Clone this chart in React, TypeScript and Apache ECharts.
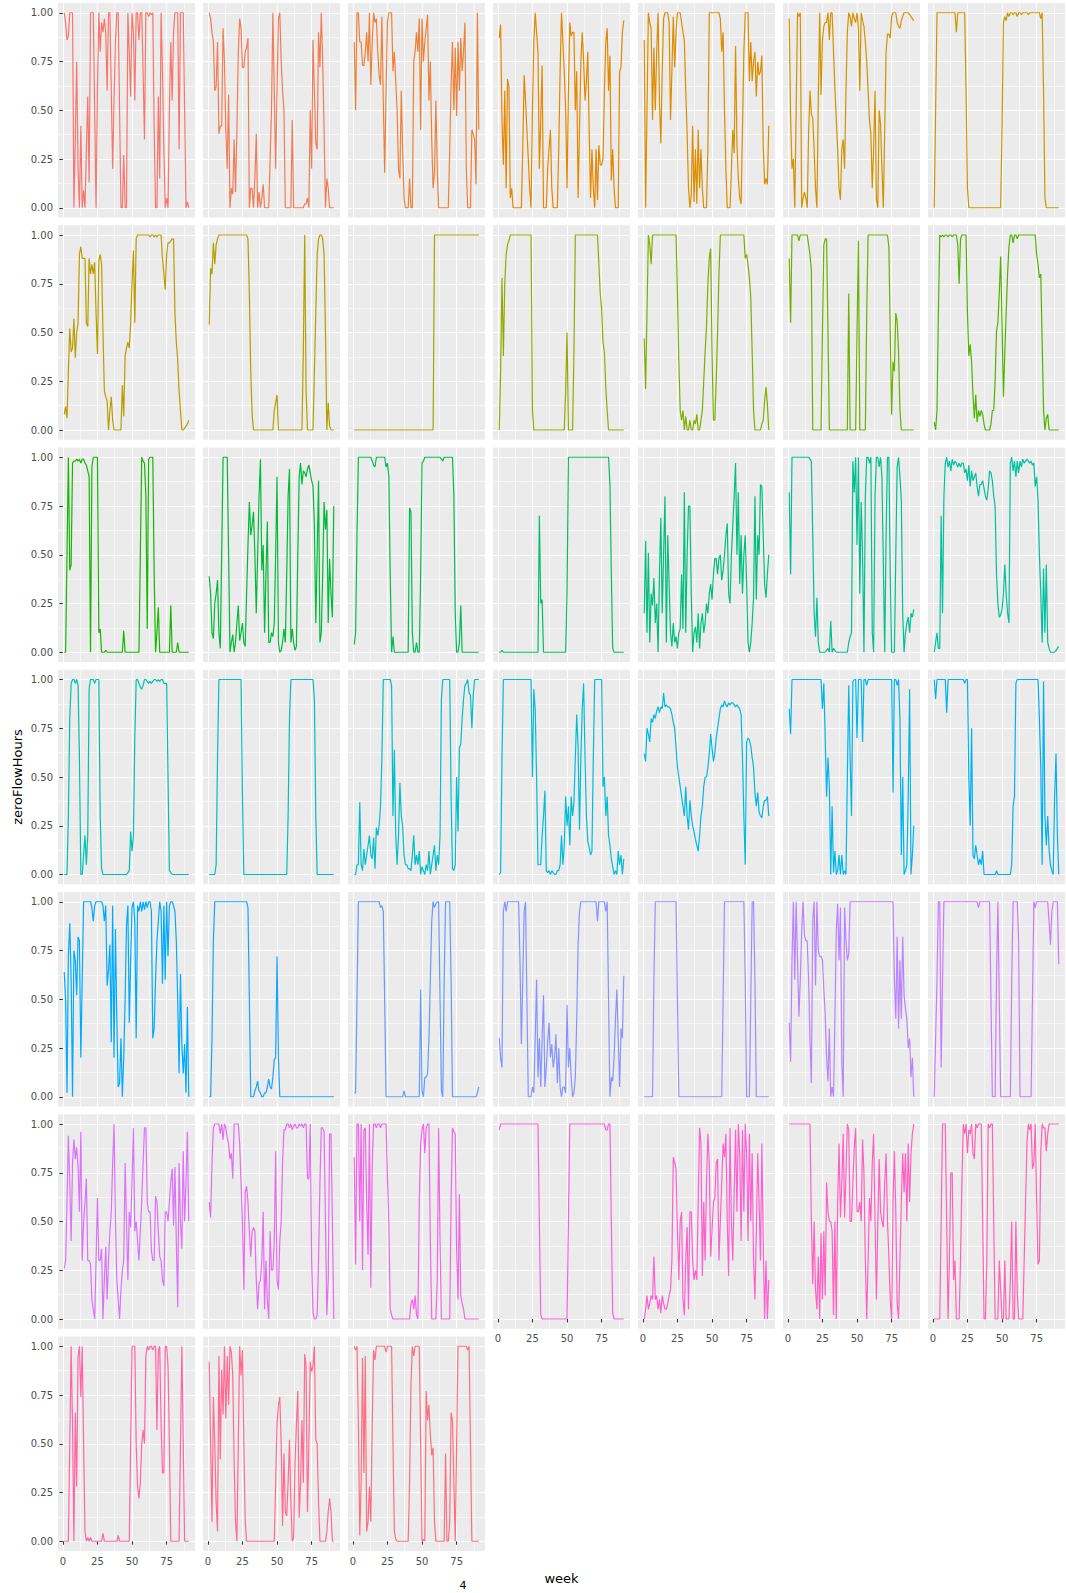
import React, { useEffect, useRef } from 'react';
import * as echarts from 'echarts';

const weeks = [1,2,3,4,5,6,7,8,9,10,11,12,13,14,15,16,17,18,19,20,21,22,23,24,25,26,27,28,29,30,31,32,33,34,35,36,37,38,39,40,41,42,43,44,45,46,47,48,49,50,51,52,53,54,55,56,57,58,59,60,61,62,63,64,65,66,67,68,69,70,71,72,73,74,75,76,77,78,79,80,81,82,83,84,85,86,87,88,89,90,91];
const yTickValues = [0, 0.25, 0.5, 0.75, 1];
const xTickValues = [0, 25, 50, 75];

// zeroFlowHours per panel, in percent of 1.00
const s01 = [100,95,86,88,100,100,100,0,35,75,20,0,42,0,9,0,30,57,13,100,100,100,50,0,60,100,80,95,90,97,90,60,100,100,60,20,55,85,100,100,50,0,0,27,0,0,100,80,57,100,90,55,100,100,86,100,100,70,35,100,100,98,100,99,100,40,0,0,57,15,100,70,30,0,5,0,50,85,55,90,100,100,100,30,100,100,100,50,0,3,0];
const s02 = [100,97,90,85,60,62,85,38,42,42,92,75,40,20,58,0,10,7,35,8,40,80,97,92,72,72,80,82,87,0,10,10,0,15,38,0,8,0,5,12,0,0,0,0,25,50,100,60,20,60,97,100,75,60,50,0,0,0,0,0,45,0,0,0,0,0,0,0,0,2,2,5,0,50,20,86,60,33,30,90,72,100,75,40,0,15,10,0,0,0,0];
const s03 = [85,50,100,100,85,85,73,73,80,90,75,100,63,85,100,95,97,80,68,63,98,55,18,60,95,100,100,100,70,80,65,50,20,15,60,30,5,0,0,0,15,0,0,75,80,90,80,97,40,97,75,85,92,99,55,75,35,10,18,55,20,0,0,0,0,0,0,0,0,30,63,85,50,82,47,85,60,87,70,80,95,20,0,0,0,40,38,35,12,100,40];
const s04 = [87,94,45,22,60,10,66,62,5,10,0,0,0,0,0,0,0,30,68,55,40,25,10,0,50,85,100,90,80,20,45,73,0,0,0,20,30,40,10,0,0,0,0,30,70,100,85,70,50,10,60,95,88,90,90,50,70,5,40,75,90,75,55,65,80,40,5,30,10,0,30,4,32,22,22,25,60,85,92,60,78,14,30,10,0,0,0,70,72,90,96];
const s05 = [86,0,50,100,95,92,45,82,50,80,100,55,33,70,97,100,100,100,95,45,70,98,72,90,100,100,100,95,90,86,60,38,10,0,7,42,3,30,2,40,10,30,10,0,0,0,30,100,100,100,100,100,100,100,100,97,80,90,50,20,0,0,0,20,40,28,83,33,15,5,2,40,80,100,100,100,65,85,65,75,80,57,75,68,70,78,32,12,15,12,42];
const s06 = [97,46,20,25,0,50,100,98,100,0,5,8,5,0,38,60,48,46,30,10,0,55,100,58,86,93,95,95,100,86,100,100,80,61,45,30,10,4,30,35,20,60,90,100,98,93,100,97,95,100,92,60,100,96,93,85,75,60,45,38,10,30,60,4,0,50,43,20,0,40,80,89,89,87,98,100,100,100,95,93,92,96,98,100,100,100,100,99,98,97,96];
const s07 = [0,50,100,100,100,100,100,100,100,100,100,100,100,100,100,100,90,100,100,100,100,100,100,60,10,0,0,0,0,0,0,0,0,0,0,0,0,0,0,0,0,0,0,0,0,0,0,0,0,40,95,98,96,100,98,100,100,99,100,100,98,100,100,99,100,100,100,100,99,100,100,100,100,100,100,100,100,97,100,60,5,0,0,0,0,0,0,0,0,0,0];
const s08 = [8,12,6,30,52,40,42,57,37,50,55,90,94,88,88,88,55,53,88,80,85,80,86,60,39,87,90,85,50,20,17,15,0,10,17,5,0,0,0,0,0,0,23,7,38,42,45,42,55,75,92,55,98,100,100,100,100,100,100,100,100,100,99,100,100,99,100,99,100,100,100,88,80,72,90,96,96,97,98,98,60,45,36,20,10,0,0,1,2,3,5];
const s09 = [54,83,80,96,85,95,98,100,100,100,100,100,100,100,100,100,100,100,100,100,100,100,100,100,100,100,100,100,98,70,30,8,0,0,0,0,0,0,0,0,0,0,0,0,0,0,0,10,14,18,0,0,0,0,0,0,0,0,0,0,0,0,0,0,0,0,0,0,40,100,20,0,0,0,0,0,30,60,90,98,100,100,98,90,50,0,14,2,0,0,0];
const s10 = [0,0,0,0,0,0,0,0,0,0,0,0,0,0,0,0,0,0,0,0,0,0,0,0,0,0,0,0,0,0,0,0,0,0,0,0,0,0,0,0,0,0,0,0,0,0,0,0,0,0,0,0,0,0,0,0,0,0,100,100,100,100,100,100,100,100,100,100,100,100,100,100,100,100,100,100,100,100,100,100,100,100,100,100,100,100,100,100,100,100,100];
const s11 = [0,30,78,38,75,90,95,97,100,100,100,100,100,100,100,100,100,100,100,100,100,100,100,100,10,0,0,0,0,0,0,0,0,0,0,0,0,0,0,0,0,0,0,0,0,0,0,0,20,50,0,0,0,0,40,100,100,100,100,100,100,100,100,100,100,100,100,100,100,100,100,100,85,70,62,45,40,22,10,0,0,0,0,0,0,0,0,0,0,0,0];
const s12 = [47,21,60,100,95,85,100,100,100,100,100,100,100,100,100,100,100,100,100,100,100,100,100,100,70,35,10,5,10,0,7,0,0,5,0,0,5,3,8,0,0,5,10,25,40,53,75,88,93,40,5,5,25,50,80,100,100,100,100,100,100,100,100,100,100,100,100,100,100,100,100,100,100,88,90,85,78,68,40,10,0,0,0,0,0,3,5,15,22,13,0];
const s13 = [88,55,100,100,100,100,100,97,100,100,100,100,100,100,95,90,82,0,0,0,0,0,0,0,50,95,98,98,50,0,0,0,0,0,0,0,0,0,0,0,0,0,0,70,0,0,0,0,0,50,97,0,0,0,0,0,60,100,100,100,100,100,100,100,100,100,100,100,100,100,100,100,94,50,8,35,30,60,56,40,10,0,0,0,0,0,0,0,0,0,0];
const s14 = [4,0,10,60,100,99,100,99,100,100,99,100,100,99,100,100,100,95,75,98,100,100,100,100,60,38,44,35,18,6,18,4,10,7,10,8,3,0,0,0,0,3,10,10,25,51,55,70,89,55,17,40,60,80,94,100,100,96,100,100,98,100,100,100,100,100,100,100,100,100,100,100,100,100,90,85,78,80,45,10,0,6,8,0,0,0,0,0,0,0,0];
const s15 = [0,0,50,100,42,45,97,98,98,99,98,99,97,99,99,97,96,93,90,0,95,100,100,100,100,10,12,0,0,0,1,0,0,0,0,0,0,0,0,0,0,0,0,11,0,0,0,0,0,0,0,0,0,0,0,50,100,98,97,80,12,99,100,100,100,40,0,10,23,0,0,0,0,0,0,0,0,24,0,0,0,0,5,0,0,0,0,0,0,0,0];
const s16 = [39,30,10,7,25,30,37,10,2,50,100,100,100,100,50,0,5,9,0,5,15,24,6,10,15,5,3,30,55,77,60,65,72,50,20,50,80,99,42,55,10,40,67,5,5,10,8,15,50,90,5,0,1,5,12,5,40,80,94,5,12,5,1,3,50,90,97,86,93,92,90,94,96,92,88,85,65,15,50,88,5,10,40,77,63,73,15,48,30,18,75];
const s17 = [4,10,60,100,100,100,100,100,100,100,100,100,100,98,96,95,100,100,100,100,100,100,100,95,97,90,40,0,8,0,0,0,0,0,0,0,0,0,0,0,74,72,10,0,0,5,0,0,40,97,98,100,100,100,100,100,100,100,100,100,100,100,100,99,98,100,100,100,100,100,100,100,80,20,0,0,5,24,0,0,0,0,0,0,0,0,0,0,0,0,0];
const s18 = [0,0,1,0,0,0,0,0,0,0,0,0,0,0,0,0,0,0,0,0,0,0,0,0,0,0,0,0,0,70,25,27,0,0,0,0,0,0,0,0,0,0,0,0,0,0,0,0,0,30,100,100,100,100,100,100,100,100,100,100,100,100,100,100,100,100,100,100,100,100,100,100,100,100,100,100,100,100,100,100,86,40,2,0,0,0,0,0,0,0,0];
const s19 = [20,57,10,51,5,30,24,38,15,25,0,40,69,20,50,80,5,60,35,10,3,15,5,8,2,10,12,40,12,82,10,50,75,75,30,0,10,13,5,20,2,15,20,10,15,25,20,30,35,27,40,48,48,40,48,50,37,42,50,60,66,30,25,50,65,80,97,50,82,35,60,30,50,60,35,5,0,5,15,28,80,27,60,50,86,85,60,35,28,40,50];
const s20 = [82,40,100,100,100,100,100,100,100,100,100,100,100,100,100,99,98,60,20,8,28,5,0,0,0,0,0,1,2,0,16,0,2,1,0,0,0,0,0,0,0,0,0,5,8,10,98,82,100,55,100,30,77,50,0,80,100,100,97,100,10,0,80,100,100,95,100,90,45,0,60,100,100,40,0,0,0,50,95,100,90,78,20,0,10,15,18,10,20,18,22];
const s21 = [0,5,10,2,2,70,20,80,97,100,95,98,93,99,96,98,97,95,97,95,97,97,92,94,88,96,85,93,88,90,92,85,80,86,86,88,84,80,78,84,93,92,88,80,75,40,25,18,19,22,30,45,30,20,15,97,100,93,98,90,98,92,98,95,99,97,98,99,98,97,98,96,97,85,90,78,50,30,5,43,10,45,5,2,0,0,0,0,1,2,3];
const s22 = [0,0,0,30,80,98,100,100,98,100,97,60,0,0,10,20,5,20,95,100,100,100,98,100,100,100,30,3,0,0,0,0,0,0,0,0,0,0,0,0,0,0,0,0,0,0,1,2,22,12,20,70,100,100,98,96,95,97,100,100,99,98,99,98,99,100,100,99,100,99,100,100,98,98,98,50,2,1,0,0,0,0,0,0,0,0,0,0,0,0,0];
const s23 = [0,0,0,0,0,5,60,100,100,100,100,100,100,100,100,100,100,100,100,100,100,100,100,100,40,0,0,0,0,0,0,0,0,0,0,0,0,0,0,0,0,0,0,0,0,0,0,0,0,0,0,0,0,0,0,0,0,30,80,100,100,100,100,100,100,100,100,100,100,100,100,100,100,100,100,100,90,30,0,0,0,0,0,0,0,0,0,0,0,0,0];
const s24 = [0,0,5,5,37,5,2,13,5,10,15,20,10,8,19,3,24,20,25,35,60,100,100,100,100,100,100,97,30,64,20,5,20,47,30,25,10,5,5,3,3,2,10,20,5,10,5,12,0,4,2,0,5,2,12,0,5,10,15,2,10,5,20,90,100,100,100,100,100,100,40,3,2,5,50,22,65,67,80,90,97,98,100,93,92,75,92,100,100,100,100];
const s25 = [0,1,60,100,100,100,100,100,100,100,100,100,100,100,100,100,100,100,100,100,100,100,100,100,50,95,85,50,5,5,5,20,30,43,2,1,2,0,2,1,0,0,2,2,5,20,5,15,40,25,35,15,40,30,37,60,82,65,23,60,85,98,60,30,17,14,10,12,60,100,100,100,100,100,100,45,50,30,40,20,15,8,4,0,2,0,12,5,10,0,8];
const s26 = [62,58,75,72,68,80,78,82,80,84,86,83,86,85,93,86,87,86,86,85,82,78,75,65,55,50,45,40,35,30,45,30,23,38,30,25,22,18,15,12,20,30,35,45,50,50,55,62,72,65,58,62,70,75,80,85,87,86,89,87,86,88,87,88,88,87,86,87,86,85,82,60,30,5,68,70,69,66,60,55,42,35,42,32,30,29,35,38,38,40,30];
const s27 = [85,72,100,100,100,100,100,100,100,100,100,100,100,100,100,100,100,100,100,100,100,100,100,100,85,98,70,40,60,45,0,35,1,12,0,2,10,0,10,0,2,0,50,97,60,30,99,100,100,70,100,100,100,68,100,100,97,100,100,100,100,100,100,100,100,100,100,100,100,100,100,100,100,100,100,42,100,100,97,100,80,10,50,0,2,5,40,95,0,10,25];
const s28 = [100,90,100,100,100,100,100,100,100,83,100,100,100,100,100,100,100,100,100,100,100,100,98,100,100,50,25,75,10,8,15,10,5,8,5,12,0,0,0,0,0,0,0,0,0,2,0,0,0,0,0,0,0,0,0,0,5,35,40,98,100,100,100,100,100,100,100,100,100,100,100,100,100,100,100,100,80,55,5,99,30,15,30,13,5,2,0,40,62,20,0];
const s29 = [64,50,2,72,89,60,0,75,70,52,82,80,20,60,100,100,100,100,100,100,97,90,98,100,100,100,100,100,98,90,98,57,65,78,28,98,20,86,40,5,7,30,0,20,50,88,98,38,70,97,100,90,30,98,95,100,95,100,96,100,97,100,100,95,30,35,60,80,90,100,95,58,98,60,100,72,98,100,100,98,95,80,50,12,63,27,12,27,2,46,0];
const s30 = [0,0,30,80,100,100,100,100,100,100,100,100,100,100,100,100,100,100,100,100,100,100,100,100,100,100,100,100,97,50,0,0,0,3,5,8,3,2,0,0,2,2,5,9,5,4,10,19,20,72,20,0,0,0,0,0,0,0,0,0,0,0,0,0,0,0,0,0,0,0,0,0,0,0,0,0,0,0,0,0,0,0,0,0,0,0,0,0,0,0,0];
const s31 = [2,2,50,100,100,100,100,100,100,100,100,100,100,100,100,100,100,100,100,97,98,95,50,0,0,0,0,0,0,0,0,0,0,0,0,0,3,0,0,0,0,0,0,0,0,0,0,0,55,3,0,10,10,12,30,60,90,100,97,99,100,100,50,3,0,60,100,100,100,100,60,0,0,0,0,0,0,0,0,0,0,0,0,0,0,0,0,0,0,2,5];
const s32 = [30,20,15,95,100,95,100,100,100,100,100,100,100,100,100,70,27,60,95,100,50,0,0,0,5,2,30,60,10,30,5,30,52,5,15,28,38,20,27,15,20,32,7,25,5,0,5,5,2,47,15,25,10,0,2,10,40,78,95,100,100,100,100,100,100,100,100,100,100,100,100,90,100,100,100,100,100,95,100,50,0,10,8,20,40,55,30,5,35,30,62];
const s33 = [0,0,0,0,0,0,0,60,100,100,100,100,100,100,100,100,100,100,100,100,100,100,100,100,50,0,0,0,0,0,0,0,0,0,0,0,0,0,0,0,0,0,0,0,0,0,0,0,0,0,0,0,0,0,0,0,0,50,100,100,100,100,100,100,100,100,100,100,100,100,100,100,100,60,0,0,0,50,100,100,60,0,0,0,0,0,0,0,0,0,0];
const s34 = [38,18,70,100,60,100,70,41,60,85,100,83,80,80,60,30,7,90,100,57,100,75,72,72,70,55,42,20,8,35,0,5,0,40,85,99,70,97,18,0,97,80,70,73,100,100,100,100,100,100,100,100,100,100,100,100,100,100,100,100,100,100,100,100,100,100,100,100,100,100,100,100,100,100,100,100,60,40,82,35,70,40,82,52,45,40,25,30,10,20,0];
const s35 = [0,30,60,100,100,15,60,100,100,100,100,100,100,100,100,100,100,100,100,100,100,100,100,100,100,100,100,100,100,100,100,100,97,100,100,100,100,100,100,100,100,50,0,0,0,60,100,50,0,0,0,0,0,0,0,0,60,100,100,100,100,80,0,0,0,0,0,0,0,0,0,50,100,97,100,100,100,100,100,100,100,100,100,90,78,95,100,100,100,100,68];
const s36 = [26,30,60,94,70,40,80,92,82,88,78,55,96,30,50,60,72,30,30,28,10,5,0,30,62,30,30,36,0,20,37,10,30,45,55,80,100,50,20,10,0,15,25,30,80,50,20,55,47,70,98,45,50,40,30,45,60,80,98,98,60,55,55,35,30,30,63,60,45,32,30,20,17,55,55,50,60,70,77,48,78,40,6,80,50,36,86,50,70,96,50];
const s37 = [60,52,80,98,100,100,100,100,95,100,92,100,98,93,90,82,85,72,100,100,100,100,90,70,50,15,65,68,60,45,32,45,47,45,20,5,18,20,30,55,5,30,10,0,45,25,25,40,86,20,15,40,50,80,97,97,100,100,98,100,97,99,100,98,98,100,99,100,98,100,100,72,72,100,30,3,0,0,2,30,70,98,98,96,50,2,20,95,95,50,0];
const s38 = [83,28,100,100,50,100,25,97,98,60,33,100,16,80,100,100,98,100,100,98,100,100,100,100,73,50,5,2,0,0,0,0,0,0,0,0,0,0,0,0,0,8,10,5,12,2,0,60,90,97,100,85,98,100,100,40,0,0,0,0,20,98,40,0,0,0,0,0,0,0,60,98,96,95,35,10,64,12,8,5,0,0,0,0,0,0,0,0,0,0,0];
const s39 = [97,100,100,100,100,100,100,100,100,100,100,100,100,100,100,100,100,100,100,100,100,100,100,100,100,100,100,100,100,50,2,0,0,0,0,0,0,0,0,0,0,0,0,0,0,0,0,0,0,0,50,100,100,100,100,100,100,100,100,100,100,100,100,100,100,100,100,100,100,100,100,100,100,100,100,100,100,97,97,100,100,50,3,0,0,0,0,0,0,0,0];
const s40 = [0,5,12,5,8,12,10,32,10,12,5,10,3,12,8,5,5,8,12,15,30,83,80,77,45,20,50,55,10,2,30,47,5,55,55,30,20,25,20,60,98,90,22,60,30,70,95,80,32,45,60,62,80,82,30,50,70,90,83,95,50,22,98,50,30,65,97,55,100,85,40,97,55,100,85,40,95,50,85,30,10,45,85,60,30,90,40,0,30,0,20];
const s41 = [100,100,100,100,100,100,100,100,100,100,100,100,100,100,100,100,50,18,50,15,5,32,0,44,10,45,12,70,55,50,50,45,2,50,0,60,90,52,70,95,52,75,100,97,50,50,70,88,98,55,55,60,50,92,75,30,0,30,62,50,80,95,50,10,48,82,55,50,47,70,85,50,32,10,0,60,86,55,8,0,30,60,85,65,85,50,90,60,85,95,100];
const s42 = [0,0,0,0,0,50,100,100,100,50,0,30,75,75,20,30,0,0,0,30,70,100,95,100,85,97,95,100,85,82,100,98,100,100,100,50,0,0,30,100,98,100,100,50,0,0,0,30,15,0,0,30,0,0,0,20,50,0,0,50,14,0,0,0,0,30,60,90,100,97,100,77,80,100,60,28,30,85,100,98,98,86,95,100,100,100,100,100,100,100,100];
const s43 = [0,0,0,0,50,100,60,0,66,28,95,100,74,100,50,5,0,2,0,2,0,0,0,0,0,0,0,0,4,0,0,0,0,0,0,0,0,0,0,3,0,0,0,0,0,0,0,0,50,100,100,100,50,28,22,30,50,57,50,95,100,98,100,100,98,100,100,57,98,100,60,35,35,100,100,90,50,0,0,0,0,0,0,0,50,100,50,0,0,0,0];
const s44 = [92,50,10,74,50,20,5,95,42,88,65,100,63,95,70,100,97,85,40,10,0,50,100,85,98,50,10,0,0,0,0,0,0,0,0,0,0,0,0,0,0,0,0,0,0,0,0,0,30,60,70,74,50,8,45,15,13,30,52,20,0,2,40,60,77,12,30,62,30,96,90,15,50,92,87,90,100,52,50,20,0,0,0,0,0,5,15,22,15,0,0];
const s45 = [100,98,100,60,3,30,94,35,95,5,10,28,10,60,98,93,100,100,100,100,100,100,100,97,100,100,100,100,50,5,1,0,0,0,0,0,0,0,0,0,30,80,100,95,100,100,100,100,50,0,1,0,77,62,70,55,44,48,10,0,0,0,0,0,0,0,45,0,0,10,66,62,30,0,50,100,100,100,100,100,100,100,98,100,50,0,0,0,0,0,0];

const panels = [s01,s02,s03,s04,s05,s06,s07,s08,s09,s10,s11,s12,s13,s14,s15,s16,s17,s18,s19,s20,s21,s22,s23,s24,s25,s26,s27,s28,s29,s30,s31,s32,s33,s34,s35,s36,s37,s38,s39,s40,s41,s42,s43,s44,s45];

// ggplot2 default hue palette colour (HCL, c=100, l=65)
function hclHex(h: number, c = 100, l = 65): string {
  const hr = (h * Math.PI) / 180;
  const U = c * Math.cos(hr);
  const V = c * Math.sin(hr);
  const Xn = 95.047, Yn = 100.0, Zn = 108.883;
  const den = Xn + 15 * Yn + 3 * Zn;
  const un = (4 * Xn) / den, vn = (9 * Yn) / den;
  const Y = Yn * Math.pow((l + 16) / 116, 3);
  const u = U / (13 * l) + un;
  const v = V / (13 * l) + vn;
  const X = (9 * Y * u) / (4 * v);
  const Z = ((9 * Y) / v - X - 15 * Y) / 3;
  const x = X / 100, y = Y / 100, z = Z / 100;
  const lin = [
    3.240479 * x - 1.53715 * y - 0.498535 * z,
    -0.969256 * x + 1.875992 * y + 0.041556 * z,
    0.055648 * x - 0.204043 * y + 1.057311 * z,
  ];
  const hex = lin.map((t) => {
    const g = t <= 0.0031308 ? 12.92 * t : 1.055 * Math.pow(t, 1 / 2.4) - 0.055;
    const n = Math.round(Math.min(1, Math.max(0, g)) * 255);
    return n.toString(16).padStart(2, '0');
  });
  return '#' + hex.join('');
}

const FONT = 'DejaVu Sans';

export default function App() {
  const ref = useRef<HTMLDivElement>(null);
  useEffect(() => {
    if (!ref.current) return;
    const chart = echarts.init(ref.current, null, { renderer: 'svg' });
    const n = panels.length;
    const grid: any[] = [];
    const xAxis: any[] = [];
    const yAxis: any[] = [];
    const series: any[] = [];
    panels.forEach((vals, i) => {
      const r = Math.floor(i / 7);
      const c = i % 7;
      const showX = i + 7 >= n;
      const showY = c === 0;
      grid.push({
        left: 58 + 145 * c,
        top: 3 + 222.25 * r,
        width: 137,
        height: 214.5,
        show: true,
        backgroundColor: '#EBEBEB',
        borderWidth: 0,
        containLabel: false,
        outerBoundsMode: 'none',
      });
      xAxis.push({
        type: 'value',
        gridIndex: i,
        min: -3.5,
        max: 95.5,
        minInterval: 25,
        maxInterval: 25,
        axisLine: { show: false },
        axisTick: { show: showX, length: 3.5, customValues: xTickValues, lineStyle: { color: '#333333', width: 1 } },
        axisLabel: {
          show: showX,
          customValues: xTickValues,
          color: '#4D4D4D',
          fontSize: 10,
          fontFamily: FONT,
          margin: 5,
          formatter: (v: number) => (Math.abs(v / 25 - Math.round(v / 25)) < 1e-6 ? String(v) : ''),
        },
        splitLine: { show: true, lineStyle: { color: '#FFFFFF', width: 1.1 } },
        minorTick: { show: false, splitNumber: 2 },
        minorSplitLine: { show: true, lineStyle: { color: '#FFFFFF', width: 0.55 } },
      });
      yAxis.push({
        type: 'value',
        gridIndex: i,
        min: -0.05,
        max: 1.05,
        minInterval: 0.25,
        maxInterval: 0.25,
        axisLine: { show: false },
        axisTick: { show: showY, length: 3.5, customValues: yTickValues, lineStyle: { color: '#333333', width: 1 } },
        axisLabel: {
          show: showY,
          customValues: yTickValues,
          color: '#4D4D4D',
          fontSize: 10,
          fontFamily: FONT,
          margin: 5,
          formatter: (v: number) => (Math.abs(v * 4 - Math.round(v * 4)) < 1e-6 ? v.toFixed(2) : ''),
        },
        splitLine: { show: true, lineStyle: { color: '#FFFFFF', width: 1.1 } },
        minorTick: { show: false, splitNumber: 2 },
        minorSplitLine: { show: true, lineStyle: { color: '#FFFFFF', width: 0.55 } },
      });
      series.push({
        type: 'line',
        xAxisIndex: i,
        yAxisIndex: i,
        data: vals.map((v, k) => [weeks[k], v / 100]),
        showSymbol: false,
        symbol: 'none',
        silent: true,
        clip: false,
        lineStyle: { color: hclHex(15 + (360 * i) / n), width: 1.2 },
      });
    });
    chart.setOption({
      animation: false,
      backgroundColor: '#FFFFFF',
      grid,
      xAxis,
      yAxis,
      series,
      graphic: [
        {
          type: 'text',
          x: 17,
          y: 777,
          rotation: Math.PI / 2,
          style: {
            text: 'zeroFlowHours',
            fill: '#000000',
            font: `13px "${FONT}"`,
            align: 'center',
            verticalAlign: 'middle',
            textAlign: 'center',
            textVerticalAlign: 'middle',
          },
        },
        {
          type: 'text',
          x: 561.5,
          y: 1578,
          style: {
            text: 'week',
            fill: '#000000',
            font: `13px "${FONT}"`,
            align: 'center',
            verticalAlign: 'middle',
            textAlign: 'center',
            textVerticalAlign: 'middle',
          },
        },
        {
          type: 'text',
          x: 463,
          y: 1591,
          style: {
            text: '4',
            fill: '#000000',
            font: `11px "${FONT}"`,
            align: 'center',
            verticalAlign: 'bottom',
            textAlign: 'center',
            textVerticalAlign: 'bottom',
          },
        },
      ],
    });
    return () => chart.dispose();
  }, []);
  return <div ref={ref} style={{ position: 'absolute', left: 0, top: 0, width: 1066, height: 1593 }} />;
}
